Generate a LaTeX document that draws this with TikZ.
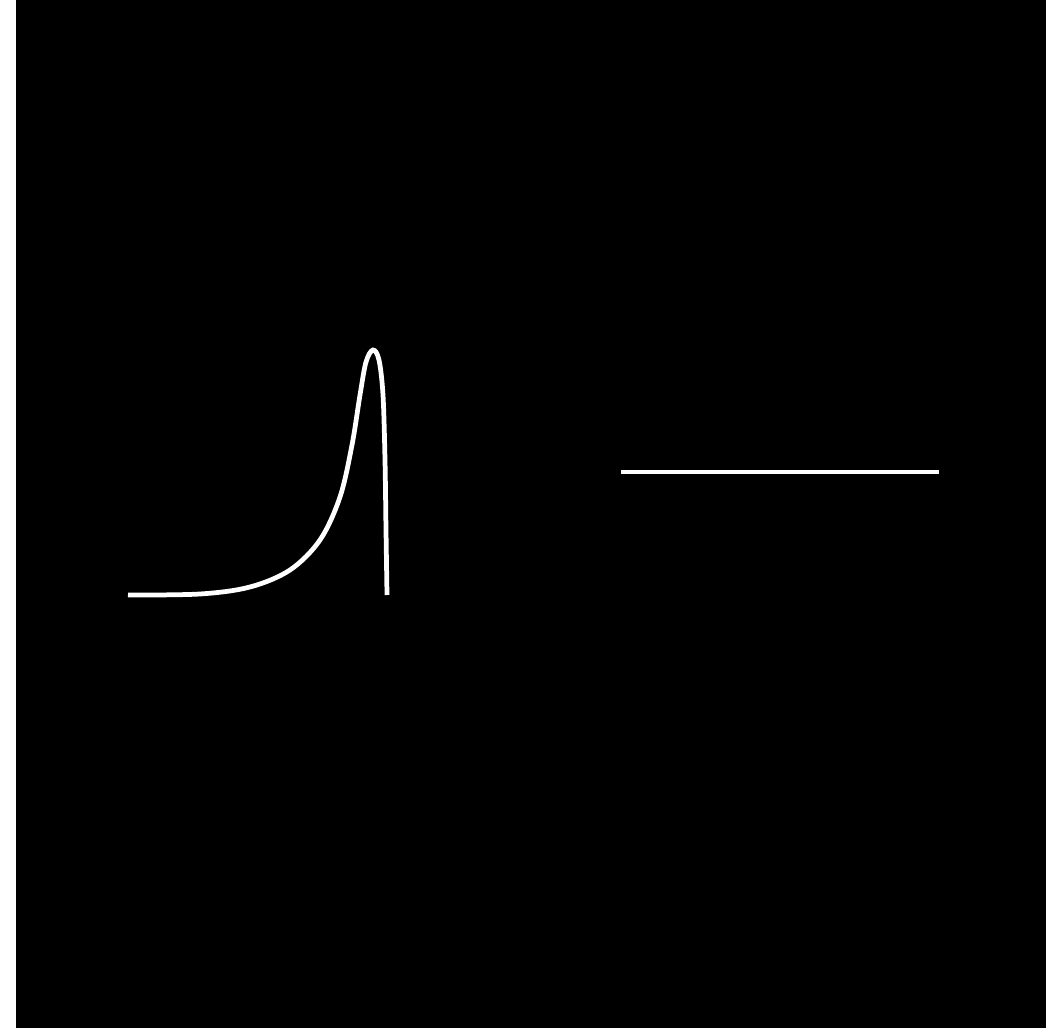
\documentclass[tikz,border=0pt]{standalone}
\usepackage{xcolor}
\usepackage{tikz}
\definecolor{ink}{HTML}{FFFFFF}
\definecolor{board}{HTML}{000000}

\begin{document}
\begin{tikzpicture}[x=0.01cm, y=-0.01cm, trace/.style={draw=ink, line width=1.35pt}]
\useasboundingbox (0,0) rectangle (1063,1028);
\fill[board] (16,0) rectangle (1046,1028);
% pulse with a sharp drop
\draw[trace] plot[smooth, tension=0.55] coordinates {(128,595) (200,594) (250,587) (290,570) (320,540) (340,497) (352,445) (360,395) (366,362) (373,350) (379,360) (383,395) (385,460) (386,530) (387,595)};
% flat level
\coordinate (flatL) at (621,472);
\coordinate (flatR) at (939,472);
\draw[trace] (flatL) -- (flatR);
\end{tikzpicture}
\end{document}
